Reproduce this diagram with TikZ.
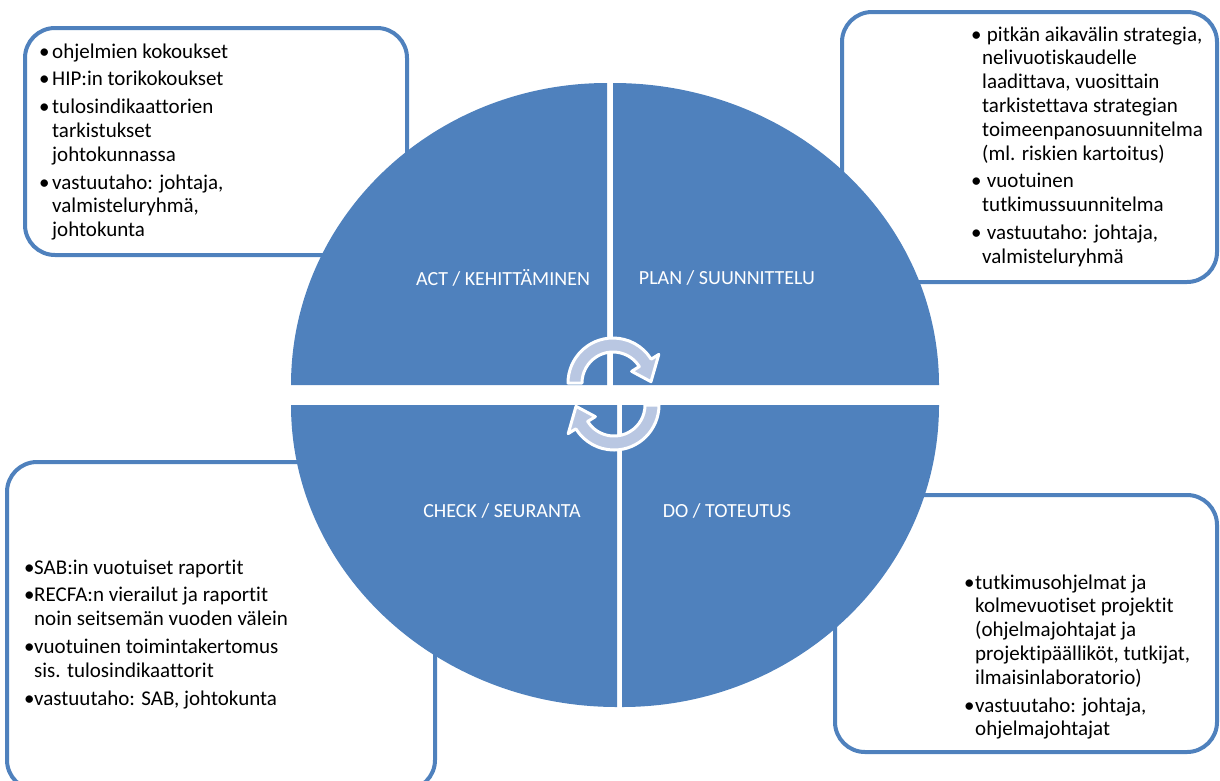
\documentclass[tikz,border=0pt]{standalone}
\usepackage{fontspec}
\setmainfont{Carlito}[Ligatures=NoCommon]
\definecolor{qblue}{HTML}{4F81BD}
\definecolor{arrfill}{RGB}{185,199,226}
\tikzset{
  quad/.style={fill=qblue},
  infobox/.style={draw=qblue, line width=4pt, rounded corners=30pt, fill=white},
  qlabel/.style={text=white, font=\fontsize{20}{24}\selectfont, inner sep=0pt},
  boxtext/.style={anchor=base west, inner sep=0pt, font=\fontsize{21}{23.8}\selectfont},
  cyclearrow/.style={fill=arrfill, draw=white, line width=3pt, line join=round}
}
\newcommand\bul[2]{\par\noindent\hangindent=#1\hangafter=1\makebox[#1][l]{•}#2}
\begin{document}
\begin{tikzpicture}[x=1pt,y=1pt]
\useasboundingbox (0,0) rectangle (1220,-780);
% boxes
\path[infobox] (25,-28) rectangle (407,-255);
\path[infobox] (842,-12) rectangle (1217,-282);
\path[infobox] (7,-462) rectangle (435,-790);
\path[infobox] (835,-495) rectangle (1217,-752);
% quadrants
\fill[quad] (607,-385) -- (291,-385) arc[start angle=180,end angle=90,x radius=316,y radius=302] -- cycle;
\fill[quad] (613,-385) -- (613,-83) arc[start angle=90,end angle=0,x radius=326,y radius=302] -- cycle;
\fill[quad] (617,-405) -- (291,-405) arc[start angle=180,end angle=270,x radius=326,y radius=302] -- cycle;
\fill[quad] (622,-405) -- (939,-405) arc[start angle=0,end angle=-90,x radius=317,y radius=302] -- cycle;
% labels
\node[qlabel] (act) at (503,-278) {ACT / KEHITTÄMINEN};
\node[qlabel] (plan) at (727,-278) {PLAN / SUUNNITTELU};
\node[qlabel] (check) at (502,-511) {CHECK / SEURANTA};
\node[qlabel] (do) at (727,-511) {DO / TOTEUTUS};
% cycle arrows
\begin{scope}[shift={(613,-383)}]
\path[cyclearrow] (180:45) arc[start angle=180,end angle=32,radius=45] -- (32:54) -- (2:38) -- (32:22) -- (32:31) arc[start angle=32,end angle=180,radius=31] -- cycle;
\end{scope}
\begin{scope}[shift={(614,-405)},rotate=180]
\path[cyclearrow] (180:45) arc[start angle=180,end angle=32,radius=45] -- (32:54) -- (2:38) -- (32:22) -- (32:31) arc[start angle=32,end angle=180,radius=31] -- cycle;
\end{scope}
% texts
\node[boxtext] (acttext) at (39,-58) {\parbox[t]{350pt}{\parskip=4pt
\bul{13pt}{ohjelmien kokoukset}
\bul{13pt}{HIP:in torikokoukset}
\bul{13pt}{tulosindikaattorien\\tarkistukset\\johtokunnassa}
\bul{13pt}{vastuutaho: johtaja,\\valmisteluryhmä,\\johtokunta}}};
\node[boxtext] (plantext) at (971,-41) {\parbox[t]{240pt}{\parskip=4pt
\bul{11pt}{\ pitkän aikavälin strategia,\\nelivuotiskaudelle\\laadittava, vuosittain\\tarkistettava strategian\\toimeenpanosuunnitelma\\(ml. riskien kartoitus)}
\bul{11pt}{\ vuotuinen\\tutkimussuunnitelma}
\bul{11pt}{\ vastuutaho: johtaja,\\valmisteluryhmä}}};
\node[boxtext] (checktext) at (24,-574) {\parbox[t]{400pt}{\parskip=4pt
\bul{10pt}{SAB:in vuotuiset raportit}
\bul{10pt}{RECFA:n vierailut ja raportit\\noin seitsemän vuoden välein}
\bul{10pt}{vuotuinen toimintakertomus\\sis. tulosindikaattorit}
\bul{10pt}{vastuutaho: SAB, johtokunta}}};
\node[boxtext] (dotext) at (964,-589) {\parbox[t]{250pt}{\parskip=4pt
\bul{11pt}{tutkimusohjelmat ja\\kolmevuotiset projektit\\(ohjelmajohtajat ja\\projektipäälliköt, tutkijat,\\ilmaisinlaboratorio)}
\bul{11pt}{vastuutaho: johtaja,\\ohjelmajohtajat}}};
\end{tikzpicture}
\end{document}
